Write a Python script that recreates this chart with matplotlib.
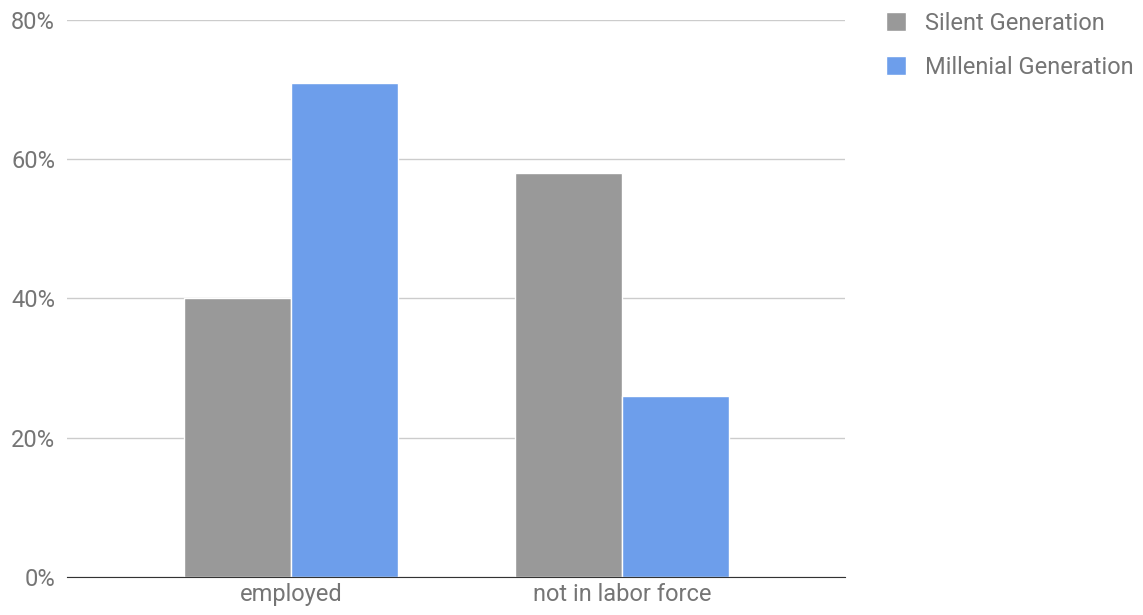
import matplotlib.pyplot as plt
import numpy as np
from matplotlib.ticker import FuncFormatter

categories = ["employed", "not in labor force"]
silent = [40, 58]
millenial = [71, 26]
series_names = ["Silent Generation", "Millenial Generation"]
colors = ["#999999", "#6d9eeb"]

plt.rcParams['font.family'] = ['Roboto', 'DejaVu Sans']

fig = plt.figure(figsize=(11.43, 6.15), dpi=100)
ax = fig.add_axes([0.0586, 0.0618, 0.6807, 0.9057])

x = np.arange(len(categories))
w = 0.322
ax.bar(x - w / 2, silent, w, color=colors[0], edgecolor="white", linewidth=1, label=series_names[0], zorder=3)
ax.bar(x + w / 2, millenial, w, color=colors[1], edgecolor="white", linewidth=1, label=series_names[1], zorder=3)

ax.set_xlim(-0.677, 1.674)
ax.set_ylim(0, 80)
ax.set_yticks([0, 20, 40, 60, 80])
ax.yaxis.set_major_formatter(FuncFormatter(lambda v, p: f"{v:.0f}%"))
ax.set_xticks(x)
ax.set_xticklabels(categories)
ax.tick_params(length=0, labelsize=17, labelcolor="#757575")
ax.tick_params(axis="y", pad=8.6)
ax.tick_params(axis="x", pad=4)
ax.grid(axis="y", color="#cccccc", linewidth=1, zorder=0)
for s in ["top", "right", "left"]:
    ax.spines[s].set_visible(False)
ax.spines["bottom"].set_color("#333333")
ax.spines["bottom"].set_zorder(4)

leg = fig.legend(loc="upper left", bbox_to_anchor=(886 / 1143, 1 - 12 / 615), frameon=False,
                 fontsize=17, handlelength=0.85, handleheight=0.85, handletextpad=0.8,
                 labelspacing=0.87, borderpad=0, borderaxespad=0, labelcolor="#757575")

fig.savefig("out.png", dpi=100)
